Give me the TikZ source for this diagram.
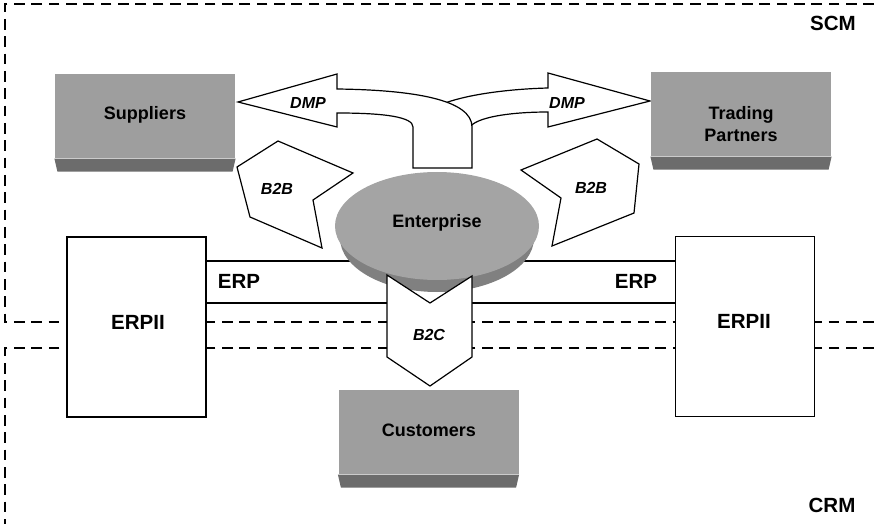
\documentclass[tikz,border=0pt]{standalone}
\usepackage{fontspec}
\setmainfont{Liberation Sans}
\usetikzlibrary{shapes.geometric,calc}
\definecolor{boxgray}{HTML}{9E9E9E}
\definecolor{shadegray}{HTML}{6C6C6C}
\definecolor{rimgray}{HTML}{808080}
\definecolor{discgray}{HTML}{A4A4A4}
\begin{document}
\begin{tikzpicture}[x=0.75pt,y=-0.75pt,line width=0.9pt,
  zone/.style={dash pattern=on 8pt off 5pt,line width=0.8pt},
  whiteshape/.style={draw=black,fill=white,line join=miter},
  erpbox/.style={draw=black,fill=white,minimum width=104.25pt,minimum height=135pt,inner sep=0pt},
  greybox/.style={fill=boxgray,minimum width=135pt,minimum height=63pt,inner sep=0pt},
  maintext/.style={font=\bfseries\fontsize{13.5}{16.5}\selectfont,align=center,inner sep=0pt},
  bigtext/.style={font=\bfseries\fontsize{15.4}{18}\selectfont,inner sep=0pt},
  smalltext/.style={font=\bfseries\itshape\fontsize{12}{14}\selectfont,inner sep=0pt}]
\useasboundingbox (0,0) rectangle (874,524);

% SCM and CRM zones
\draw[zone] (874,4) -- (5,4) -- (5,322) -- (874,322);
\draw[zone] (874,348) -- (5,348) -- (5,524);

% ERP band
\draw (206,261) -- (676,261);
\draw (206,303) -- (676,303);

% ERPII boxes
\node[erpbox] (erpL) at (136.5,327) {};
\node[erpbox] (erpR) at (745,326.5) {};
\node[bigtext] (erpLtxt) at (138,322) {ERPII};
\node[bigtext] (erpRtxt) at (744,321) {ERPII};
\node[bigtext] (erpbandL) at (239,281) {ERP};
\node[bigtext] (erpbandR) at (636,281) {ERP};

% Enterprise disc with its darker rim
\fill[rimgray] (437,238) ellipse [x radius=97, y radius=54];
\node[ellipse,fill=discgray,minimum width=153pt,minimum height=81pt,inner sep=0pt] (ent) at (437,226) {};
\node[maintext] (enttxt) at (437,223) {Enterprise};

% B2C arrow down to the customers
\draw[whiteshape] (387,275) -- (430,303) -- (472,276) -- (472,357) -- (430,386) -- (387,357) -- cycle;
\node[smalltext] (b2c) at (429,335) {B2C};

% DMP arrows: the right branch passes behind the left one
\draw[whiteshape] (456,140) -- (473,124) .. controls (486,115) and (520,112) .. (548,112)
  -- (548,127) -- (650,101) -- (548,73) -- (548,88)
  .. controls (510,89) and (470,94) .. (445,103) -- cycle;
\draw[whiteshape] (238,102) -- (337,74) -- (337,89)
  .. controls (415,90) and (472,100) .. (472,127) -- (472,168) -- (413,168) -- (413,127)
  .. controls (413,117) and (385,113) .. (337,113) -- (337,127) -- cycle;
\node[smalltext] (dmpL) at (308,103) {DMP};
\node[smalltext] (dmpR) at (567,103) {DMP};

% B2B arrows
\draw[whiteshape] (278,141) -- (353,173) -- (313,200) -- (322,248) -- (250,217) -- (237,167) -- cycle;
\draw[whiteshape] (597,139) -- (521,170) -- (561,198) -- (552,246) -- (634,213) -- (639,164) -- cycle;
\node[smalltext] (b2bL) at (277,189) {B2B};
\node[smalltext] (b2bR) at (591,188) {B2B};

% Grey partner boxes with a darker bottom face
\node[greybox] (sup) at (145,116) {};
\fill[shadegray] (sup.south west) -- (sup.south east) -- ++(-3,13) -- ($(sup.south west)+(3,13)$) -- cycle;
\node[maintext] (suptxt) at (145,115) {Suppliers};

\node[greybox] (trade) at (741,114) {};
\fill[shadegray] (trade.south west) -- (trade.south east) -- ++(-3,13) -- ($(trade.south west)+(3,13)$) -- cycle;
\node[maintext] (tradetxt) at (741,124) {Trading\\Partners};

\node[greybox] (cust) at (428.5,432) {};
\fill[shadegray] (cust.south west) -- (cust.south east) -- ++(-3,13) -- ($(cust.south west)+(3,13)$) -- cycle;
\node[maintext] (custtxt) at (429,430) {Customers};

% Zone labels
\node[bigtext] (scm) at (833,23) {SCM};
\node[bigtext] (crm) at (832,505) {CRM};
\end{tikzpicture}
\end{document}
